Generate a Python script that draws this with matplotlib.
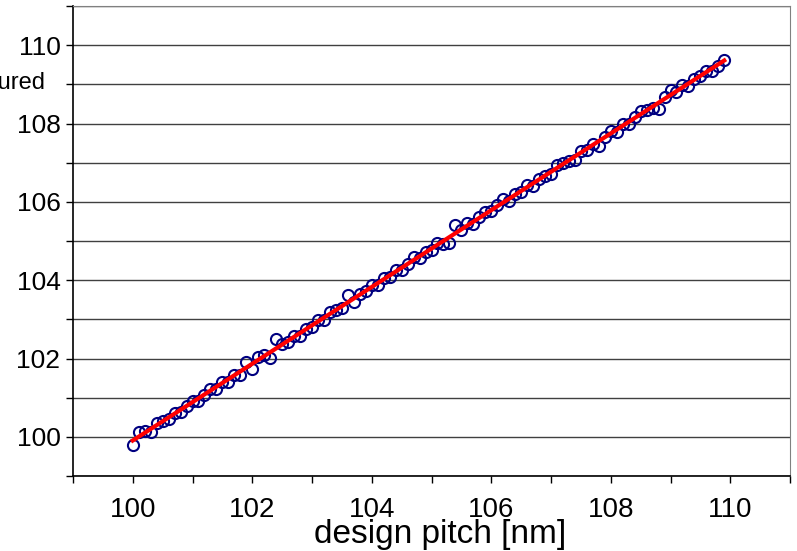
import numpy as np
import matplotlib.pyplot as plt
from matplotlib.ticker import MultipleLocator, NullFormatter

# ===== Data =====
design_pitch = np.round(np.arange(100.0, 110.0, 0.1), 1)
measured_pitch = [
    99.78, 100.13, 100.16, 100.12, 100.35, 100.40, 100.45, 100.62, 100.63, 100.78,
    100.92, 100.92, 101.06, 101.22, 101.22, 101.40, 101.39, 101.57, 101.59, 101.92,
    101.74, 102.04, 102.09, 102.01, 102.51, 102.38, 102.43, 102.57, 102.58, 102.75,
    102.80, 102.98, 102.99, 103.19, 103.23, 103.29, 103.63, 103.45, 103.65, 103.72,
    103.88, 103.87, 104.06, 104.09, 104.26, 104.25, 104.42, 104.59, 104.56, 104.73,
    104.78, 104.95, 104.93, 104.95, 105.42, 105.29, 105.47, 105.43, 105.61, 105.74,
    105.76, 105.92, 106.06, 106.02, 106.20, 106.25, 106.42, 106.40, 106.58, 106.66,
    106.71, 106.94, 106.99, 107.05, 107.07, 107.31, 107.33, 107.48, 107.42, 107.66,
    107.82, 107.79, 107.98, 107.99, 108.16, 108.33, 108.35, 108.39, 108.38, 108.67,
    108.85, 108.80, 108.98, 108.95, 109.14, 109.21, 109.35, 109.34, 109.48, 109.61,
]
x_ticks = [100, 102, 104, 106, 108, 110]
y_ticks = [100, 102, 104, 106, 108, 110]

plt.rcParams['font.family'] = ['Liberation Sans', 'DejaVu Sans']

# ===== Linear fit =====
coef = np.polyfit(design_pitch, measured_pitch, 1)
fit_x = np.array([design_pitch[0], design_pitch[-1]])
fit_y = np.polyval(coef, fit_x)

fig = plt.figure(figsize=(7.97, 5.51), dpi=100, facecolor='white')
ax = fig.add_axes([73/797, 1 - 476/551, (790 - 73)/797, (476 - 6)/551])

ax.plot(design_pitch, measured_pitch, 'o', markerfacecolor='none',
        markeredgecolor='#000080', markersize=8, markeredgewidth=1.5, zorder=3)
ax.plot(fit_x, fit_y, color='#ff0000', linewidth=3.0, zorder=4)

ax.set_xlim(99, 111)
ax.set_ylim(99, 111)

ax.set_xticks(x_ticks)
ax.set_yticks(y_ticks)
ax.xaxis.set_minor_locator(MultipleLocator(1))
ax.yaxis.set_minor_locator(MultipleLocator(1))
ax.xaxis.set_minor_formatter(NullFormatter())
ax.yaxis.set_minor_formatter(NullFormatter())

# horizontal grid only
ax.yaxis.grid(True, which='both', color='#404040', linewidth=1.0)
ax.xaxis.grid(False)
ax.set_axisbelow(True)

for lab in ax.get_yticklabels():
    lab.set_fontsize(19)
for lab in ax.get_xticklabels():
    lab.set_fontsize(20)

ax.tick_params(axis='both', which='both', direction='out', length=5, width=1, color='black')
ax.tick_params(axis='y', pad=4)
ax.tick_params(axis='x', pad=10)

ax.spines['left'].set_color('black')
ax.spines['bottom'].set_color('black')
ax.spines['left'].set_linewidth(1.2)
ax.spines['bottom'].set_linewidth(1.2)
ax.spines['top'].set_color('#808080')
ax.spines['right'].set_color('#808080')

# axis titles (y title is cut off at the left edge)
fig.text(440/797, 1 - 543/551, 'design pitch [nm]', fontsize=24,
         ha='center', va='baseline')
fig.text(45/797, 1 - 89/551, 'measured', fontsize=17, ha='right', va='baseline')

fig.savefig('out.png', dpi=100)
